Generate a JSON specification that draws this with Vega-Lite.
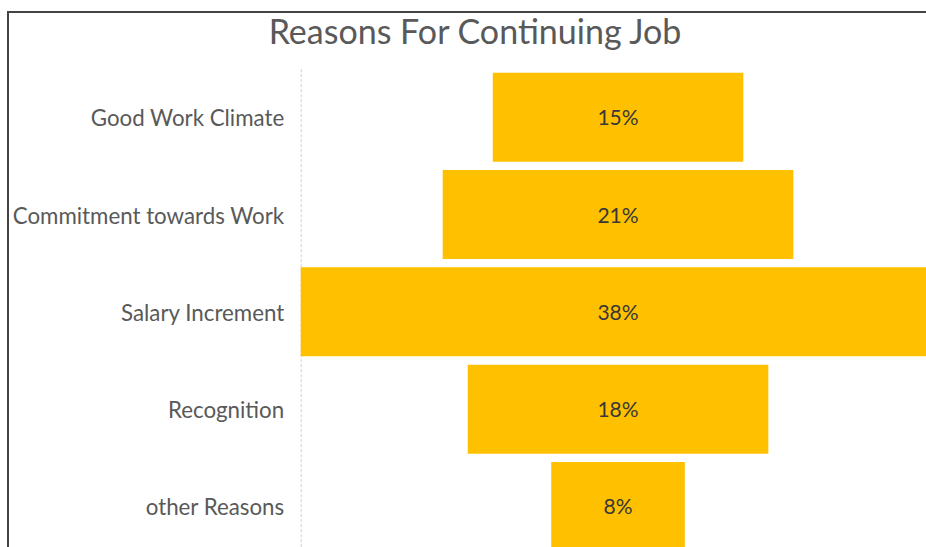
{
  "$schema": "https://vega.github.io/schema/vega-lite/v6.json",
  "width": 940,
  "height": 560,
  "autosize": {"type": "none"},
  "padding": {"left": 8, "top": 12, "right": 0, "bottom": 0},
  "background": "white",
  "config": {"view": {"stroke": "#444444", "strokeWidth": 2}, "font": "Lato"},
  "title": {"text": "Reasons For Continuing Job", "fontSize": 34, "font": "Lato", "fontWeight": "normal", "color": "#595959", "baseline": "alphabetic", "offset": -66, "anchor": "middle", "dx": -3},
  "data": {"values": [
    {"reason": "Good Work Climate", "value": 0.15},
    {"reason": "Commitment towards Work", "value": 0.21},
    {"reason": "Salary Increment", "value": 0.38},
    {"reason": "Recognition", "value": 0.18},
    {"reason": "other Reasons", "value": 0.08}
  ]},
  "transform": [{"stack": "value", "groupby": ["reason"], "offset": "center", "as": ["v0", "v1"]}],
  "layer": [
    {
      "mark": {"type": "bar", "color": "#FFC000"},
      "encoding": {
        "y": {
          "field": "reason", "type": "nominal", "sort": null,
          "scale": {"range": [56.6, 543.1], "paddingInner": 0.085, "paddingOuter": 0.0425},
          "axis": {"orient": "left", "offset": -292.7, "title": null, "ticks": false, "grid": false, "domainColor": "#d0d0d0", "domainDash": [3, 2], "domainWidth": 1, "labelFontSize": 22.3, "labelColor": "#595959", "labelPadding": 17, "labelLimit": 400, "labelFont": "Lato", "labelOffset": 2}
        },
        "x": {"field": "v0", "type": "quantitative", "scale": {"domain": [-0.1753, 0.3876], "nice": false, "zero": false}, "axis": null},
        "x2": {"field": "v1"}
      }
    },
    {
      "mark": {"type": "text", "fontSize": 21, "color": "#383838", "font": "Lato", "dy": 2},
      "encoding": {
        "y": {"field": "reason", "type": "nominal", "sort": null},
        "x": {"datum": 0.19},
        "text": {"field": "value", "type": "quantitative", "format": ".0%"}
      }
    }
  ]
}
